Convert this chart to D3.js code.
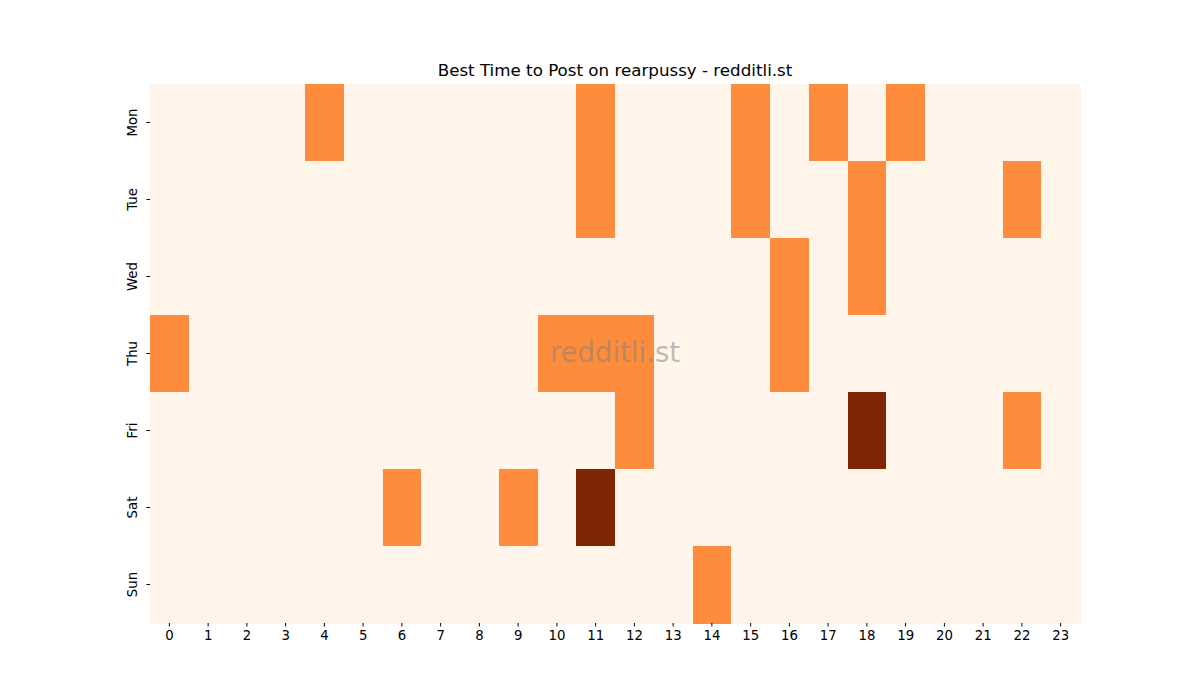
<!DOCTYPE html>
<html>
<head>
<meta charset="utf-8">
<script src="https://cdn.jsdelivr.net/npm/d3@7"></script>
<style>
  body { margin: 0; background: #fff; }
  text { font-family: "DejaVu Sans", sans-serif; }
</style>
</head>
<body>
<svg id="chart"></svg>
<script>
// data: one entry per (day, hour) that is not zero
var days = ["Mon", "Tue", "Wed", "Thu", "Fri", "Sat", "Sun"];
var hours = d3.range(24);
var monHours = [4, 11, 15, 17, 19];
var tueHours = [11, 15, 18, 22];
var wedHours = [16, 18];
var thuHours = [0, 10, 11, 12, 16];
var friHours = [12, 22];
var satHours = [6, 9];
var sunHours = [14];
var topCells = [["Fri", 18], ["Sat", 11]];

var width = 1200, height = 700;
var plotLeft = 150, plotRight = 1080, plotTop = 84, plotBottom = 623;

// build the grid
var hot = {Mon: monHours, Tue: tueHours, Wed: wedHours, Thu: thuHours,
           Fri: friHours, Sat: satHours, Sun: sunHours};
var cells = [];
days.forEach(function(d) {
  hours.forEach(function(h) {
    var v = hot[d].indexOf(h) >= 0 ? 1 : 0;
    topCells.forEach(function(t) { if (t[0] === d && t[1] === h) v = 2; });
    cells.push({day: d, hour: h, value: v});
  });
});

var svg = d3.select("#chart").attr("width", width).attr("height", height);

var x = d3.scaleBand().domain(hours).range([plotLeft, plotRight]);
var y = d3.scaleBand().domain(days).range([plotTop, plotBottom]);
var color = d3.scaleOrdinal().domain([0, 1, 2]).range(["#fff5eb", "#fd8d3c", "#7f2704"]);

svg.append("g").selectAll("rect")
  .data(cells)
  .enter().append("rect")
  .attr("x", function(d) { return x(d.hour); })
  .attr("y", function(d) { return y(d.day); })
  .attr("width", x.bandwidth() + 0.6)
  .attr("height", y.bandwidth() + 0.6)
  .attr("shape-rendering", "crispEdges")
  .attr("fill", function(d) { return color(d.value); });

var xAxis = svg.append("g")
  .attr("transform", "translate(0," + plotBottom + ")")
  .call(d3.axisBottom(x).tickSize(3.5).tickPadding(4));
xAxis.select(".domain").remove();
xAxis.selectAll("text").attr("font-size", 13.3).attr("fill", "#000")
  .style("font-family", "DejaVu Sans, sans-serif");

var yAxis = svg.append("g")
  .attr("transform", "translate(" + plotLeft + ",0)")
  .call(d3.axisLeft(y).tickSize(3.5).tickPadding(4));
yAxis.select(".domain").remove();
yAxis.selectAll("text")
  .attr("font-size", 13.3).attr("fill", "#000")
  .style("font-family", "DejaVu Sans, sans-serif")
  .attr("text-anchor", "middle")
  .attr("dy", 0)
  .attr("x", 0)
  .attr("transform", "translate(-13,0) rotate(-90)");

svg.append("text")
  .attr("x", (plotLeft + plotRight) / 2)
  .attr("y", 76)
  .attr("text-anchor", "middle")
  .attr("font-size", 16.7)
  .text("Best Time to Post on rearpussy - redditli.st");

svg.append("text")
  .attr("x", (plotLeft + plotRight) / 2)
  .attr("y", 362)
  .attr("text-anchor", "middle")
  .attr("font-size", 27.5)
  .attr("fill", "#808080")
  .attr("fill-opacity", 0.5)
  .text("redditli.st");
</script>
</body>
</html>
